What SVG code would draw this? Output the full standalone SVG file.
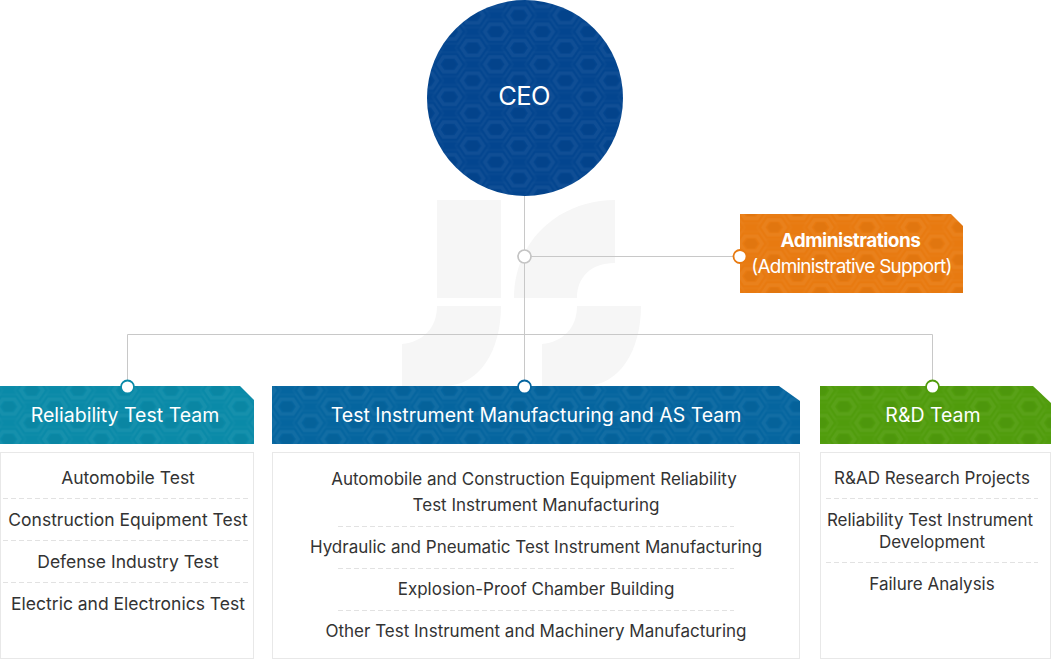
<svg xmlns="http://www.w3.org/2000/svg" width="1051" height="659" viewBox="0 0 1051 659">
<style>
text{font-family:Inter,"Liberation Sans",sans-serif;text-anchor:middle}
.h{fill:#fff;font-size:19.500px}
.t{fill:#333;font-size:17px}
.l{fill:#333;font-size:17.500px}
.b{fill:#fff;stroke:#e8e8e8;stroke-width:1}
.d{stroke:#e2e2e2;stroke-width:1;stroke-dasharray:5 3;fill:none}
.c{fill:none;stroke:#c8c8c8;stroke-width:1}
.w{fill:#f6f6f6}
</style>
<defs>
<g id="hx">
<path d="M-17 0L-9 -12H9L17 0L9 12H-9Z" fill="none" stroke="#fff" stroke-opacity=".02" stroke-width="2"/>
<path d="M-11 0L-6 -7.500H6L11 0L6 7.500H-6Z" fill="none" stroke="#fff" stroke-opacity=".05" stroke-width="3.500"/>
<path d="M-7 0L-3.500 -5H3.500L7 0L3.500 5H-3.500Z" fill="#000" fill-opacity=".03"/>
</g>
<pattern id="p" width="46.400" height="32.600" patternUnits="userSpaceOnUse" patternTransform="translate(519 15.400)">
<use href="#hx"/><use href="#hx" x="46.400"/><use href="#hx" y="32.600"/><use href="#hx" x="46.400" y="32.600"/>
<use href="#hx" x="23.200" y="16.300"/>
</pattern>
</defs>
<g id="watermark">
<rect class="w" x="437" y="200" width="64" height="98"/>
<path class="w" d="M615 200V263C590 263 577 278 577 298H514C514 240 560 200 615 200Z"/>
<path class="w" d="M437 306H501C501 350 480 386 444 386H402V344C423 342 437 328 437 306Z"/>
<path class="w" d="M577 306H641C641 350 620 386 584 386H542V344C563 342 577 328 577 306Z"/>
</g>
<g id="connectors">
<path class="c" d="M524.500 190V386"/>
<path class="c" d="M524.500 256.500H740"/>
<path class="c" d="M127.500 386V334.500H932.500V386"/>
</g>
<g id="ceo">
<circle cx="525" cy="98" r="98" fill="#03458f"/>
<circle cx="525" cy="98" r="98" fill="url(#p)"/>
<text x="524" y="105" fill="#fff" font-size="25.500" letter-spacing="-.6">CEO</text>
</g>
<g id="junction"><circle cx="524.500" cy="256.500" r="6.500" fill="#fff" stroke="#c4c4c4" stroke-width="1.700"/></g>
<g id="administrations">
<path d="M740 214H951L963 226V293H740Z" fill="#e87a10"/>
<path d="M740 214H951L963 226V293H740Z" fill="url(#p)"/>
<circle cx="740" cy="256.500" r="6.500" fill="#fff" stroke="#e87a10" stroke-width="1.800"/>
<text x="850.500" y="247" fill="#fff" font-size="19" font-weight="700" letter-spacing="-.51">Administrations</text>
<text x="851.500" y="273" fill="#fff" font-size="19" letter-spacing="-.78">(Administrative Support)</text>
</g>
<g id="reliability">
<path d="M0 386H240L254 400V444H0Z" fill="#0a8aa8"/>
<path d="M0 386H240L254 400V444H0Z" fill="url(#p)"/>
<circle cx="127.500" cy="387" r="6.500" fill="#fff" stroke="#0a8aa8" stroke-width="1.800"/>
<text class="h" x="125" y="422">Reliability Test Team</text>
<rect class="b" x=".5" y="452.500" width="253" height="206"/>
<path class="d" d="M3 498.500H251M3 540.500H251M3 582.500H251"/>
<text class="l" x="128" y="484">Automobile Test</text>
<text class="l" x="128" y="526">Construction Equipment Test</text>
<text class="l" x="128" y="568">Defense Industry Test</text>
<text class="l" x="128" y="610">Electric and Electronics Test</text>
</g>
<g id="manufacturing">
<path d="M272 386H779L800 401V444H272Z" fill="#05659f"/>
<path d="M272 386H779L800 401V444H272Z" fill="url(#p)"/>
<circle cx="524.500" cy="387" r="6.500" fill="#fff" stroke="#05659f" stroke-width="1.800"/>
<text class="h" x="536" y="422">Test Instrument Manufacturing and AS Team</text>
<rect class="b" x="272.500" y="452.500" width="527" height="206"/>
<path class="d" d="M338 526.500H734M338 568.500H734M338 610.500H734"/>
<text class="t" x="534" y="485">Automobile and Construction Equipment Reliability</text>
<text class="t" x="536" y="511">Test Instrument Manufacturing</text>
<text class="t" x="536" y="553">Hydraulic and Pneumatic Test Instrument Manufacturing</text>
<text class="t" x="536" y="595">Explosion-Proof Chamber Building</text>
<text class="t" x="536" y="637">Other Test Instrument and Machinery Manufacturing</text>
</g>
<g id="rd">
<path d="M820 386H1033L1051 403V444H820Z" fill="#509c0c"/>
<path d="M820 386H1033L1051 403V444H820Z" fill="url(#p)"/>
<circle cx="932.500" cy="387" r="6.500" fill="#fff" stroke="#509c0c" stroke-width="1.800"/>
<text class="h" x="933" y="422">R&amp;D Team</text>
<rect class="b" x="820.500" y="452.500" width="230" height="206"/>
<path class="d" d="M826 498.500H1038M826 562.500H1038"/>
<text class="t" x="932" y="484">R&amp;AD Research Projects</text>
<text class="t" x="930" y="526">Reliability Test Instrument</text>
<text class="t" x="932" y="548">Development</text>
<text class="t" x="932" y="590">Failure Analysis</text>
</g>
</svg>
